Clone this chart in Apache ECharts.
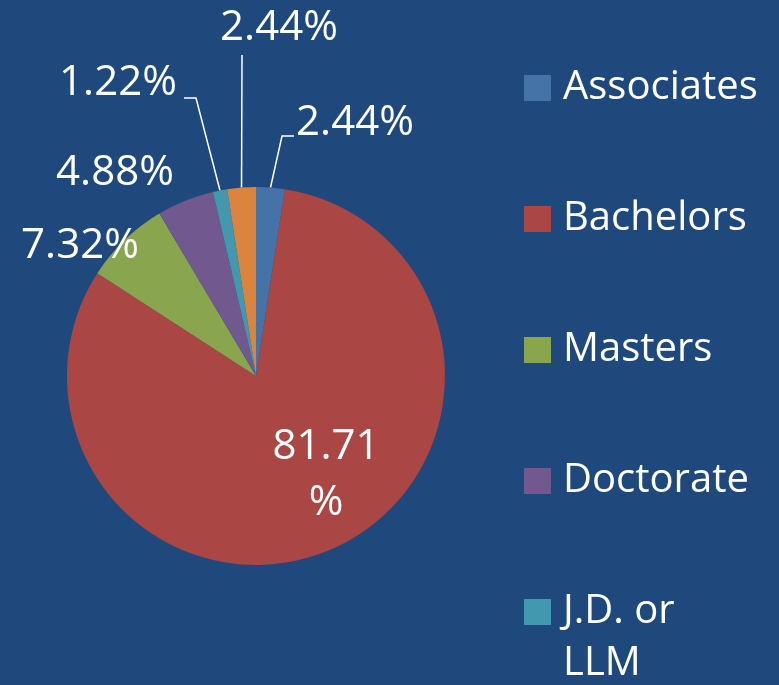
<!DOCTYPE html>
<html>
<head>
<meta charset="utf-8">
<script src="https://cdn.jsdelivr.net/npm/echarts@6/dist/echarts.min.js"></script>
<style>
  html, body { margin: 0; padding: 0; background: #1F497D; }
  #chart { width: 779px; height: 685px; }
</style>
</head>
<body>
<div id="chart"></div>
<script>
// degree mix, percent of respondents
const categories = ["Associates", "Bachelors", "Masters", "Doctorate", "J.D. or LLM", "Other"];
const percents = [2.44, 81.71, 7.32, 4.88, 1.22, 2.44];
const colors = ["#4572A7", "#AA4643", "#89A54E", "#71588F", "#4198AF", "#DB843D"];
const legendNames = categories.slice(0, 5);

// where Excel put each label (text center + elbow of the leader line)
const labelSpots = {
  0: { x: 355, y: 123, line: [[282, 136], [294, 136]] },
  1: { x: 326, y: 475 },
  2: { x: 80, y: 246 },
  3: { x: 115, y: 173 },
  4: { x: 118, y: 83, line: [[196, 98], [184, 98]] },
  5: { x: 279, y: 28, line: [[242, 55]] }
};

const font = "'Open Sans', 'Noto Sans', sans-serif";
let chart = echarts.init(document.getElementById("chart"));

let pieData = categories.map((name, i) => {
  let item = { name: name, value: percents[i], itemStyle: { color: colors[i] } };
  if (i === 1) {
    item.label = { position: "inside", formatter: "{c}\n%", lineHeight: 56 };
    item.labelLine = { show: false };
  }
  if (i === 2 || i === 3) {
    item.labelLine = { show: false };
  }
  return item;
});

// every legend entry is 3 lines tall so the square sits on the first text line
function legendText(name) {
  if (name === "J.D. or LLM") return " \nJ.D. or\nLLM";
  return " \n" + name + "\n ";
}

let option = {
  backgroundColor: "#1F497D",
  animation: false,
  legend: {
    orient: "vertical",
    left: 524,
    top: 10,
    height: 2000,
    padding: 0,
    itemWidth: 27,
    itemHeight: 26,
    itemGap: -25,
    icon: "rect",
    data: legendNames,
    formatter: legendText,
    textStyle: {
      color: "#fff",
      fontSize: 40,
      fontFamily: font,
      lineHeight: 52,
      padding: [0, 0, 0, 7]
    }
  },
  series: [
    {
      type: "pie",
      center: [256, 376],
      radius: 189,
      startAngle: 90,
      clockwise: true,
      avoidLabelOverlap: false,
      itemStyle: { borderWidth: 0 },
      label: {
        show: true,
        position: "outside",
        formatter: "{c}%",
        color: "#fff",
        fontSize: 42,
        fontFamily: font
      },
      labelLine: {
        show: true,
        length: 20,
        length2: 10,
        lineStyle: { color: "#fff", width: 1.5 }
      },
      labelLayout: params => {
        let spot = labelSpots[params.dataIndex];
        let out = { x: spot.x, y: spot.y, align: "center", verticalAlign: "middle" };
        if (spot.line && params.labelLinePoints) {
          out.labelLinePoints = [params.labelLinePoints[0]].concat(spot.line);
        }
        return out;
      },
      emphasis: { disabled: true },
      data: pieData
    }
  ]
};

chart.setOption(option);
</script>
</body>
</html>
